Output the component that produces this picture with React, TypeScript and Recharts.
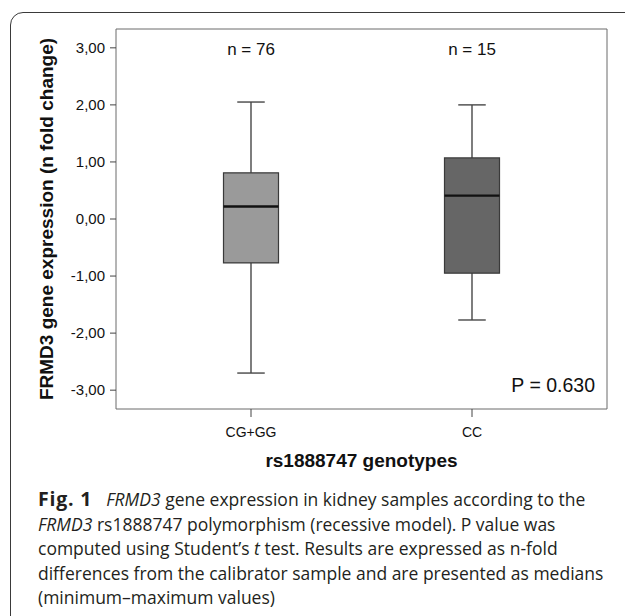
import React from "react";
import { Bar, Cell, ComposedChart, Line, XAxis, YAxis } from "recharts";

const genotypes = ["CG+GG", "CC"];
const sampleSizes = [76, 15];
const minValues = [-2.7, -1.77];
const q1Values = [-0.77, -0.95];
const medianValues = [0.22, 0.41];
const q3Values = [0.81, 1.07];
const maxValues = [2.05, 2.0];
const yTicks = [-3, -2, -1, 0, 1, 2, 3];
const yDomain = [-3.33, 3.33];
const boxFills = ["#9a9a9a", "#666666"];
const pValueText = "P = 0.630";

const rows = genotypes.map((g, i) => ({
  genotype: g,
  nLabel: `n = ${sampleSizes[i]}`,
  whisker: [minValues[i], maxValues[i]],
  box: [q1Values[i], q3Values[i]],
  median: medianValues[i],
}));

const AXIS_FONT = "'Liberation Sans', Arial, sans-serif";
const FRAME = "#6a6a6a";

function Whisker(props: any) {
  const { x, y, width, height } = props;
  const top = Math.min(y, y + height);
  const bottom = Math.max(y, y + height);
  const cx = x + width / 2;
  const cap = width / 4;
  return (
    <g stroke="#474747" strokeWidth={1.4}>
      <line x1={cx} x2={cx} y1={top} y2={bottom} />
      <line x1={cx - cap} x2={cx + cap} y1={top} y2={top} />
      <line x1={cx - cap} x2={cx + cap} y1={bottom} y2={bottom} />
    </g>
  );
}

function MedianMark(props: any) {
  const { cx, cy } = props;
  if (cx == null || cy == null) return <g />;
  return <line x1={cx - 27.5} x2={cx + 27.5} y1={cy} y2={cy} stroke="#111" strokeWidth={2.4} />;
}

function YTitle(props: any) {
  const { viewBox } = props;
  const cx = viewBox.x + 43;
  const cy = viewBox.y + viewBox.height / 2;
  return (
    <text
      x={cx}
      y={cy}
      transform={`rotate(-90, ${cx}, ${cy})`}
      textAnchor="middle"
      fontFamily={AXIS_FONT}
      fontWeight="bold"
      fontSize={19}
      fill="#111"
    >
      FRMD3 gene expression (n fold change)
    </text>
  );
}

function XTitle(props: any) {
  const { viewBox } = props;
  return (
    <text
      x={viewBox.x + viewBox.width / 2}
      y={viewBox.y + 58}
      textAnchor="middle"
      fontFamily={AXIS_FONT}
      fontWeight="bold"
      fontSize={19}
      fill="#111"
    >
      rs1888747 genotypes
    </text>
  );
}

function PValue(props: any) {
  const { viewBox } = props;
  return (
    <text
      x={viewBox.x - 12}
      y={viewBox.y + viewBox.height - 17}
      textAnchor="end"
      fontFamily={AXIS_FONT}
      fontSize={19.5}
      fill="#111"
    >
      {pValueText}
    </text>
  );
}

export default function App() {
  return (
    <div
      style={{
        position: "absolute",
        left: 0,
        top: 0,
        width: 625,
        height: 616,
        overflow: "hidden",
        background: "#fff",
      }}
    >
      <div
        style={{
          position: "absolute",
          left: 10,
          top: 12,
          width: 700,
          height: 700,
          border: "1.5px solid #3a3a3a",
          borderRadius: 13,
        }}
      />
      <div style={{ position: "absolute", left: 0, top: 0 }}>
        <ComposedChart
          width={625}
          height={480}
          data={rows}
          margin={{ top: 28, right: 17, bottom: 0, left: 10 }}
          barGap={-55}
        >
          <XAxis
            dataKey="genotype"
            type="category"
            padding={{ left: 24.5, right: 24.5 }}
            height={71}
            tickSize={8}
            tickMargin={10}
            stroke={FRAME}
            tickLine={{ stroke: "#444" }}
            tick={{ fontSize: 14, fill: "#111", fontFamily: AXIS_FONT }}
            label={{ content: XTitle }}
          />
          <XAxis
            xAxisId="top"
            orientation="top"
            dataKey="nLabel"
            type="category"
            padding={{ left: 24.5, right: 24.5 }}
            height={1}
            tickLine={false}
            tickSize={0}
            tickMargin={-26}
            stroke={FRAME}
            tick={{ fontSize: 17, fill: "#111", fontFamily: AXIS_FONT }}
          />
          <YAxis
            type="number"
            domain={yDomain}
            ticks={yTicks}
            allowDataOverflow
            width={106}
            tickSize={6}
            tickMargin={5}
            stroke={FRAME}
            tickLine={{ stroke: "#444" }}
            tickFormatter={(v: number) => v.toFixed(2).replace(".", ",")}
            tick={{ fontSize: 15, fill: "#111", fontFamily: AXIS_FONT }}
            label={{ content: YTitle }}
          />
          <YAxis
            yAxisId="right"
            orientation="right"
            type="number"
            domain={yDomain}
            allowDataOverflow
            width={1}
            tick={false}
            tickLine={false}
            stroke={FRAME}
            label={{ content: PValue }}
          />
          <Bar dataKey="whisker" barSize={55} shape={Whisker} isAnimationActive={false} />
          <Bar dataKey="box" barSize={55} stroke="#3a3a3a" strokeWidth={1.2} isAnimationActive={false}>
            {rows.map((r, i) => (
              <Cell key={r.genotype} fill={boxFills[i]} />
            ))}
          </Bar>
          <Line
            dataKey="median"
            stroke="none"
            dot={MedianMark}
            activeDot={false}
            isAnimationActive={false}
          />
          {/* invisible series so the top and right axes get drawn */}
          <Line
            xAxisId="top"
            yAxisId="right"
            dataKey="median"
            stroke="none"
            dot={false}
            activeDot={false}
            legendType="none"
            isAnimationActive={false}
          />
        </ComposedChart>
      </div>
      <div
        style={{
          position: "absolute",
          left: 38,
          top: 487,
          fontFamily: "'Open Sans', sans-serif",
          fontSize: 17.5,
          lineHeight: "24.5px",
          color: "#231f20",
          whiteSpace: "pre",
        }}
      >
        <div>
          <b style={{ fontSize: 19.5, letterSpacing: 0.8 }}>Fig. 1</b>
          <span style={{ display: "inline-block", width: 14 }} />
          <i>FRMD3</i> gene expression in kidney samples according to the
        </div>
        <div>
          <i>FRMD3</i> rs1888747 polymorphism (recessive model). P value was
        </div>
        <div>
          computed using Student’s <i>t</i> test. Results are expressed as n-fold
        </div>
        <div>differences from the calibrator sample and are presented as medians</div>
        <div>(minimum–maximum values)</div>
      </div>
    </div>
  );
}
